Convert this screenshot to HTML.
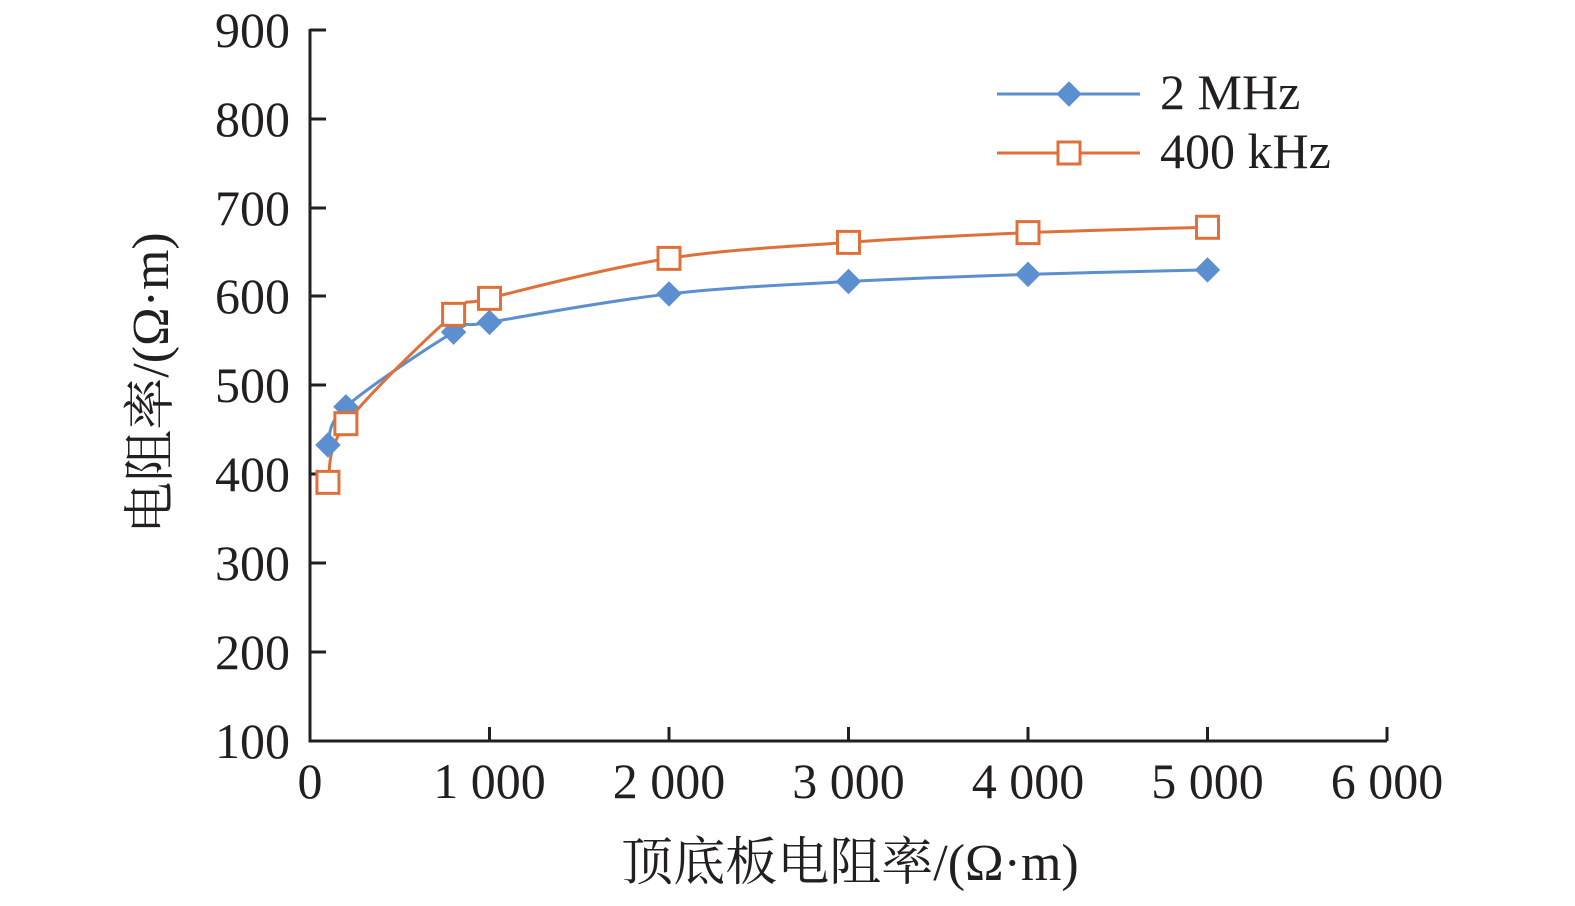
<!DOCTYPE html>
<html><head><meta charset="utf-8"><style>
body{margin:0;background:#fff;width:1575px;height:901px;overflow:hidden}
text{font-family:"Liberation Serif","Noto Serif CJK SC",serif;fill:#231f20}
</style></head><body>
<svg id="s" width="1575" height="901" xmlns="http://www.w3.org/2000/svg">
<g stroke="#231f20" stroke-width="3" fill="none">
<path d="M310,29 V741 H1387"/>
<path d="M310,30h16M310,119h16M310,208h16M310,296h16M310,385h16M310,474h16M310,563h16M310,652h16"/>
<path d="M489.5,741v-14M669,741v-14M848.5,741v-14M1028,741v-14M1207.5,741v-14M1387,741v-14"/>
</g>
<g font-size="50" text-anchor="end">
<text x="290" y="47">900</text><text x="290" y="136">800</text><text x="290" y="225">700</text><text x="290" y="313">600</text><text x="290" y="402">500</text><text x="290" y="491">400</text><text x="290" y="580">300</text><text x="290" y="669">200</text><text x="290" y="758">100</text>
</g>
<g font-size="50" text-anchor="middle">
<text x="310" y="798">0</text><text x="489.5" y="798">1 000</text><text x="669" y="798">2 000</text><text x="848.5" y="798">3 000</text><text x="1028" y="798">4 000</text><text x="1207.5" y="798">5 000</text><text x="1387" y="798">6 000</text>
</g>
<g font-size="52" text-anchor="middle">
<text x="850" y="880">顶底板电阻率/(Ω·m)</text>
<text transform="translate(168,383) rotate(-90)">电阻率/(Ω·m)</text>
</g>
<g id="plot"></g>
<line x1="997" y1="94" x2="1140" y2="94" stroke="#5b8fd0" stroke-width="3"/>
<rect x="1060" y="85" width="18" height="18" fill="#5b8fd0" transform="rotate(45 1069 94)"/>
<line x1="997" y1="153" x2="1140" y2="153" stroke="#e0703a" stroke-width="3"/>
<rect x="1058" y="142" width="22" height="22" fill="#fff" stroke="#e0703a" stroke-width="3"/>
<text x="1160" y="109" font-size="50">2 MHz</text>
<text x="1160" y="168" font-size="50">400 kHz</text>
</svg>
<script>
var X=v=>310+v*0.1795,Y=v=>741-(v-100)*0.8888;
var xs=[100,200,800,1000,2000,3000,4000,5000];
var a=[433,476,560,571,603,617,625,630],b=[391,457,580,598,643,661,672,678];
function path(d){var p=xs.map((x,i)=>[X(x),Y(d[i])]);var s="M"+p[0];for(var i=0;i<p.length-1;i++){var p0=p[i-1]||p[i],p1=p[i],p2=p[i+1],p3=p[i+2]||p2;s+="C"+(p1[0]+(p2[0]-p0[0])/6)+","+(p1[1]+(p2[1]-p0[1])/6)+" "+(p2[0]-(p3[0]-p1[0])/6)+","+(p2[1]-(p3[1]-p1[1])/6)+" "+p2;}return [s,p];}
var g=document.getElementById("plot"),h="";
var r=path(a);h+='<path d="'+r[0]+'" fill="none" stroke="#5b8fd0" stroke-width="3"/>';
var q=path(b);h+='<path d="'+q[0]+'" fill="none" stroke="#e0703a" stroke-width="3"/>';
r[1].forEach(p=>{h+='<rect x="'+(p[0]-9)+'" y="'+(p[1]-9)+'" width="18" height="18" fill="#5b8fd0" transform="rotate(45 '+p[0]+' '+p[1]+')"/>';});
q[1].forEach(p=>{h+='<rect x="'+(p[0]-11)+'" y="'+(p[1]-11)+'" width="22" height="22" fill="#fff" stroke="#e0703a" stroke-width="3"/>';});
g.innerHTML=h;
</script>
</body></html>
